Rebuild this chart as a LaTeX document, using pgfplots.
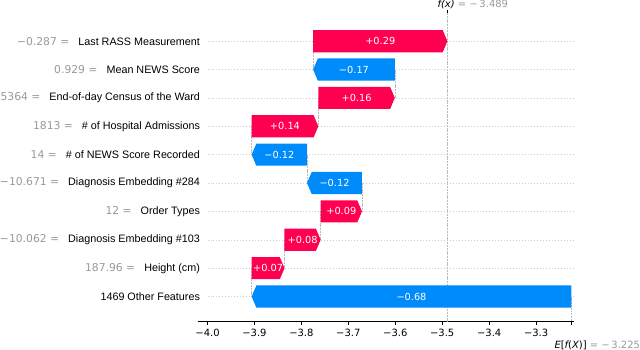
\documentclass[border=0pt]{standalone}
\usepackage{pgfplots}
\pgfplotsset{compat=1.18}
\usepackage{fontspec}
\setmainfont{Liberation Sans}
\newfontfamily\dejavu{DejaVu Sans}
\definecolor{shapred}{HTML}{FF0051}
\definecolor{shapblue}{HTML}{008BFB}
\definecolor{valgray}{HTML}{999999}
\definecolor{gridgray}{HTML}{CCCCCC}
\definecolor{linegray}{HTML}{BBBBBB}
\newcommand{\fl}[2]{{\dejavu\color{valgray}#1 =}\hspace{9bp}#2}
\begin{document}
\begin{tikzpicture}
\begin{axis}[
  scale only axis, width=376bp, height=308bp,
  xmin=-4.021, xmax=-3.219, ymin=-0.99, ymax=9.88, y dir=reverse,
  axis x line*=bottom, axis y line*=left,
  y axis line style={draw=none},
  x axis line style={line width=0.8pt, -},
  xtick={-4,-3.9,-3.8,-3.7,-3.6,-3.5,-3.4,-3.3},
  xticklabels={−4.0,−3.9,−3.8,−3.7,−3.6,−3.5,−3.4,−3.3},
  extra x ticks={-3.225}, extra x tick labels={},
  tick align=outside, major tick length=3.5bp,
  x tick style={line width=0.8pt, black},
  ytick={0,1,2,3,4,5,6,7,8,9},
  y tick style={draw=none},
  yticklabels={
    \fl{−0.287}{Last RASS Measurement},
    \fl{0.929}{Mean NEWS Score},
    \fl{5364}{End-of-day Census of the Ward},
    \fl{1813}{\# of Hospital Admissions},
    \fl{14}{\# of NEWS Score Recorded},
    \fl{−10.671}{Diagnosis Embedding \#284},
    \fl{12}{Order Types},
    \fl{−10.062}{Diagnosis Embedding \#103},
    \fl{187.96}{Height (cm)},
    1469 Other Features},
  yticklabel style={anchor=east, inner sep=0pt, xshift=6bp, font=\fontsize{10.8}{13}\selectfont},
  xticklabel style={font=\dejavu\fontsize{10}{12}\selectfont, inner sep=0pt, yshift=-4bp},
  clip=false,
]
% dotted row guides
\pgfplotsinvokeforeach{0,...,9}{
  \draw[gridgray, line width=0.5pt, dash pattern=on 0.5pt off 2.5pt] (axis cs:-4.0,#1) -- (axis cs:-3.219,#1);
}
% f(x) and E[f(X)] reference lines
\draw[linegray, line width=0.5pt, dash pattern=on 2pt off 0.8pt] (axis cs:-3.489,-0.99) -- (axis cs:-3.489,9.88);
\draw[linegray, line width=0.5pt, dash pattern=on 2pt off 0.8pt] (axis cs:-3.225,9) -- (axis cs:-3.225,9.88);
% connectors
\addplot[linegray, line width=0.5pt, dash pattern=on 2pt off 0.8pt] coordinates {(-3.775,0) (-3.775,1)};
\addplot[linegray, line width=0.5pt, dash pattern=on 2pt off 0.8pt] coordinates {(-3.601,1) (-3.601,2)};
\addplot[linegray, line width=0.5pt, dash pattern=on 2pt off 0.8pt] coordinates {(-3.764,2) (-3.764,3)};
\addplot[linegray, line width=0.5pt, dash pattern=on 2pt off 0.8pt] coordinates {(-3.906,3) (-3.906,4)};
\addplot[linegray, line width=0.5pt, dash pattern=on 2pt off 0.8pt] coordinates {(-3.788,4) (-3.788,5)};
\addplot[linegray, line width=0.5pt, dash pattern=on 2pt off 0.8pt] coordinates {(-3.671,5) (-3.671,6)};
\addplot[linegray, line width=0.5pt, dash pattern=on 2pt off 0.8pt] coordinates {(-3.759,6) (-3.759,7)};
\addplot[linegray, line width=0.5pt, dash pattern=on 2pt off 0.8pt] coordinates {(-3.836,7) (-3.836,8)};
\addplot[linegray, line width=0.5pt, dash pattern=on 2pt off 0.8pt] coordinates {(-3.906,8) (-3.906,9)};
% bars
\addplot[fill=shapred, draw=none] coordinates {(-3.775,-0.39)(-3.499,-0.39)(-3.489,0)(-3.499,0.39)(-3.775,0.39)} --cycle;
\addplot[fill=shapblue, draw=none] coordinates {(-3.601,0.61)(-3.765,0.61)(-3.775,1)(-3.765,1.39)(-3.601,1.39)} --cycle;
\addplot[fill=shapred, draw=none] coordinates {(-3.764,1.61)(-3.611,1.61)(-3.601,2)(-3.611,2.39)(-3.764,2.39)} --cycle;
\addplot[fill=shapred, draw=none] coordinates {(-3.906,2.61)(-3.774,2.61)(-3.764,3)(-3.774,3.39)(-3.906,3.39)} --cycle;
\addplot[fill=shapblue, draw=none] coordinates {(-3.788,3.61)(-3.896,3.61)(-3.906,4)(-3.896,4.39)(-3.788,4.39)} --cycle;
\addplot[fill=shapblue, draw=none] coordinates {(-3.671,4.61)(-3.778,4.61)(-3.788,5)(-3.778,5.39)(-3.671,5.39)} --cycle;
\addplot[fill=shapred, draw=none] coordinates {(-3.759,5.61)(-3.681,5.61)(-3.671,6)(-3.681,6.39)(-3.759,6.39)} --cycle;
\addplot[fill=shapred, draw=none] coordinates {(-3.836,6.61)(-3.769,6.61)(-3.759,7)(-3.769,7.39)(-3.836,7.39)} --cycle;
\addplot[fill=shapred, draw=none] coordinates {(-3.906,7.61)(-3.846,7.61)(-3.836,8)(-3.846,8.39)(-3.906,8.39)} --cycle;
\addplot[fill=shapblue, draw=none] coordinates {(-3.225,8.61)(-3.896,8.61)(-3.906,9)(-3.896,9.39)(-3.225,9.39)} --cycle;
% bar labels
\begin{scope}[every node/.style={font=\dejavu\fontsize{9.8}{11}\selectfont, text=white, inner sep=0pt}]
\node at (axis cs:-3.632,0) {+0.29};
\node at (axis cs:-3.688,1) {−0.17};
\node at (axis cs:-3.6825,2) {+0.16};
\node at (axis cs:-3.835,3) {+0.14};
\node at (axis cs:-3.847,4) {−0.12};
\node at (axis cs:-3.7295,5) {−0.12};
\node at (axis cs:-3.715,6) {+0.09};
\node at (axis cs:-3.7975,7) {+0.08};
\node at (axis cs:-3.871,8) {+0.07};
\node at (axis cs:-3.5655,9) {−0.68};
\end{scope}
% top tick and labels
\draw[black, line width=0.8pt] (axis cs:-3.489,-0.99) -- ([yshift=3.5bp]axis cs:-3.489,-0.99);
\node[anchor=south west, inner sep=0pt, font=\dejavu\fontsize{10}{12}\selectfont, xshift=-10bp, yshift=4bp] at (axis cs:-3.489,-0.99) {\itshape f(x)\upshape\ \color{valgray}= −\,3.489};
\node[anchor=north west, inner sep=0pt, font=\dejavu\fontsize{10}{12}\selectfont, xshift=-17bp, yshift=-19bp] at (axis cs:-3.225,9.88) {\itshape E\upshape[\itshape f\upshape(\itshape X\upshape)]\ \color{valgray}= −\,3.225};
\end{axis}
\end{tikzpicture}
\end{document}
